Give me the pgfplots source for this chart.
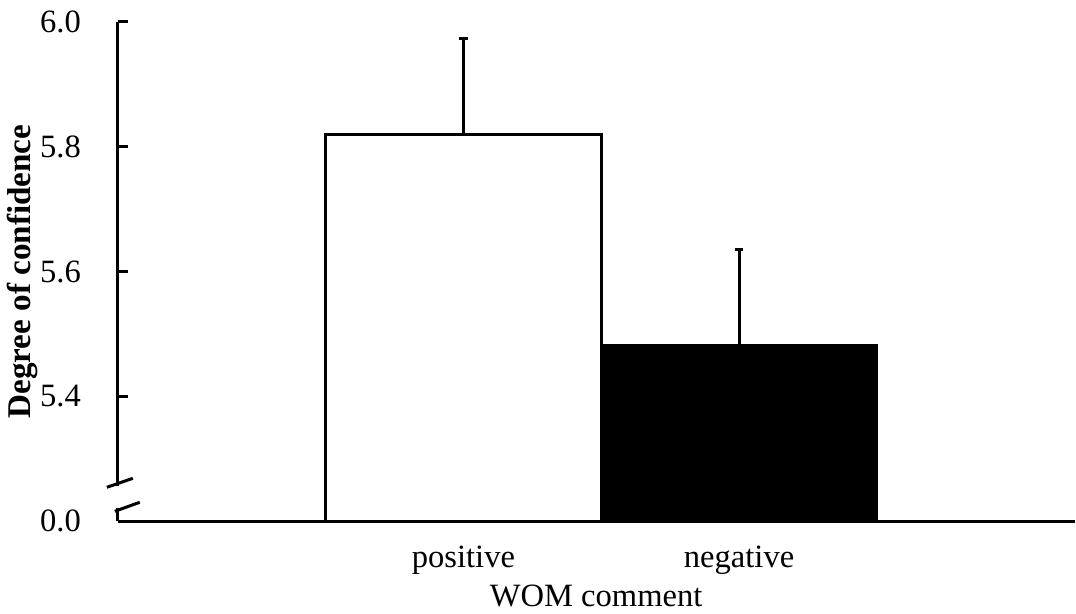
\documentclass[border=0pt]{standalone}
\usepackage{fontspec}
\setmainfont{Liberation Serif}
\usepackage{pgfplots}
\pgfplotsset{compat=1.18}
\begin{document}
\begin{tikzpicture}
\begin{axis}[
  scale only axis, width=479pt, height=250pt,
  xmin=-1.254, xmax=2.217, ymin=5.2, ymax=6.0,
  axis x line=bottom, axis y line=left,
  axis line style={-, line width=1.5pt, black},
  axis on top,
  clip=true,
  ytick={5.2,5.4,5.6,5.8,6.0},
  yticklabels={0.0,5.4,5.6,5.8,6.0},
  tick align=inside, major tick length=5pt,
  y tick style={line width=1.5pt, black},
  xtick={0,1}, xticklabels={positive,negative},
  x tick style={draw=none},
  tick label style={font=\fontsize{16.3}{19}\selectfont},
  yticklabel style={xshift=-15pt},
  xticklabel style={yshift=-9pt},
  xlabel={WOM comment},
  xlabel style={font=\fontsize{16.3}{19}\selectfont, yshift=2pt},
  ylabel={Degree of confidence},
  ylabel style={font=\fontsize{16.6}{19}\selectfont\bfseries, yshift=-5.5pt},
]
\addplot[ybar, bar width=1, bar shift=0pt, fill=white, draw=black, line width=1.5pt,
  error bars/.cd, y dir=plus, y explicit,
  error bar style={line width=1.5pt, black},
  error mark=-,
  error mark options={line width=1.5pt, mark size=2.2pt, black, rotate=90}]
  coordinates {(0,5.82) +- (0,0.153)};
\addplot[ybar, bar width=1, bar shift=0pt, fill=black, draw=black, line width=1.5pt,
  error bars/.cd, y dir=plus, y explicit,
  error bar style={line width=1.5pt, black},
  error mark=-,
  error mark options={line width=1.5pt, mark size=2.2pt, black, rotate=90}]
  coordinates {(1,5.481) +- (0,0.154)};
\end{axis}
\draw[white, line width=4pt] ([yshift=6.5pt]current axis.south west) -- ([yshift=17.5pt]current axis.south west);
\draw[line width=1.5pt] ([shift={(-5.5pt,17pt)}]current axis.south west) -- ++(13pt,4.5pt);
\draw[line width=1.5pt] ([shift={(-1.5pt,5pt)}]current axis.south west) -- ++(12.5pt,4.5pt);
\path (current axis.south west) +(-59pt,-45pt);
\path (current axis.north east) +(0pt,11pt);
\end{tikzpicture}
\end{document}
